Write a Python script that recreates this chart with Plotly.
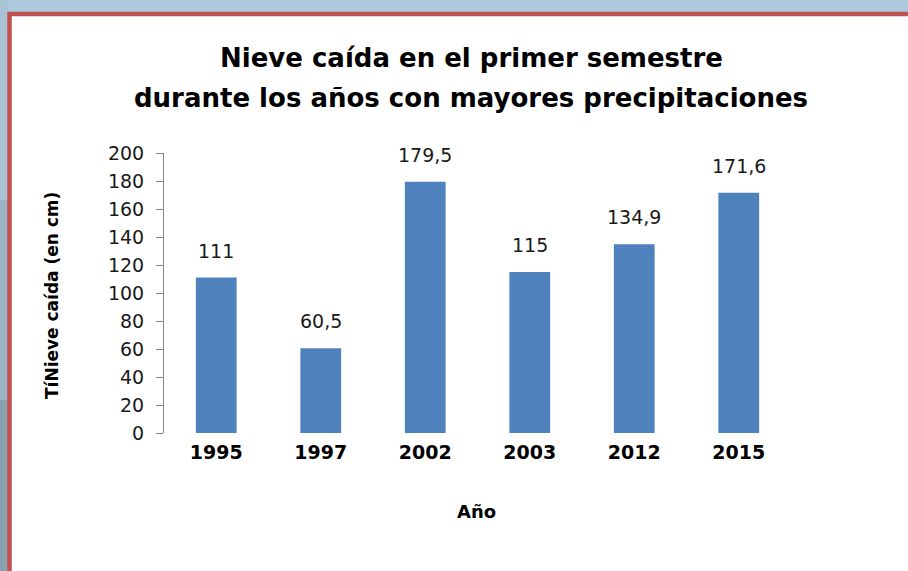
import plotly.graph_objects as go

years = ["1995", "1997", "2002", "2003", "2012", "2015"]
snow_cm = [111, 60.5, 179.5, 115, 134.9, 171.6]
y_ticks = [0, 20, 40, 60, 80, 100, 120, 140, 160, 180, 200]

title_lines = ["Nieve caída en el primer semestre", "durante los años con mayores precipitaciones"]
y_title = "TíNieve caída (en cm)"
x_title = "Año"

W, H = 908, 571
L, R, T, B = 164, 791, 153, 433


def px(x):
    return (x - L) / (R - L)


def py(y):
    return (B - y) / (B - T)


FONT = "DejaVu Sans"
labels = [f"{v:g}".replace(".", ",") for v in snow_cm]

fig = go.Figure()
fig.add_trace(go.Bar(x=years, y=snow_cm, marker=dict(color="#4f81bd", line=dict(width=0)),
                     width=0.39, hoverinfo="skip"))

for i, (v, lab) in enumerate(zip(snow_cm, labels)):
    fig.add_annotation(x=i, y=v, text=lab, showarrow=False, xanchor="center", yanchor="bottom",
                       yshift=14, font=dict(family=FONT, size=19, color="#1a1a1a"))

shapes = [
    dict(type="rect", xref="paper", yref="paper", x0=px(0), x1=px(8), y0=py(0), y1=py(200),
         fillcolor="#a9c3d5", line=dict(width=0), layer="below"),
    dict(type="rect", xref="paper", yref="paper", x0=px(0), x1=px(8), y0=py(200), y1=py(400),
         fillcolor="#9bb4c3", line=dict(width=0), layer="below"),
    dict(type="rect", xref="paper", yref="paper", x0=px(0), x1=px(8), y0=py(400), y1=py(571),
         fillcolor="#8ca3af", line=dict(width=0), layer="below"),
    dict(type="rect", xref="paper", yref="paper", x0=px(9.5), x1=px(W + 20), y0=py(14), y1=py(H + 20),
         fillcolor="white", line=dict(color="#c0504d", width=4.5), layer="below"),
]


def txt(x, y, s, size, angle=0):
    fig.add_annotation(xref="paper", yref="paper", x=px(x), y=py(y), text=s, textangle=angle,
                       xanchor="center", yanchor="middle", showarrow=False,
                       font=dict(family=FONT, size=size, color="black", weight="bold"))


txt(471, 58, title_lines[0], 26)
txt(471, 98, title_lines[1], 26)
txt(476, 511, x_title, 18)
txt(52, 296, y_title, 17, -90)

fig.update_layout(
    width=W, height=H,
    margin=dict(l=L, r=W - R, t=T, b=H - B),
    paper_bgcolor="#adc8dc", plot_bgcolor="white",
    showlegend=False, shapes=shapes, bargap=0.61,
)
fig.update_xaxes(type="category", showline=False, ticks="", showgrid=False, zeroline=False,
                 tickfont=dict(family=FONT, size=19, color="black", weight="bold"), ticklabelstandoff=6)
fig.update_yaxes(range=[0, 200], tickvals=y_ticks, showgrid=False, zeroline=False,
                 showline=True, linecolor="#868686", linewidth=1,
                 ticks="outside", ticklen=7, tickcolor="#868686",
                 tickfont=dict(family=FONT, size=19, color="#1a1a1a"), ticklabelstandoff=8)

fig.write_html("out.html", config={"displayModeBar": False},
               post_script="document.body.style.margin='0';document.body.style.padding='0';")
